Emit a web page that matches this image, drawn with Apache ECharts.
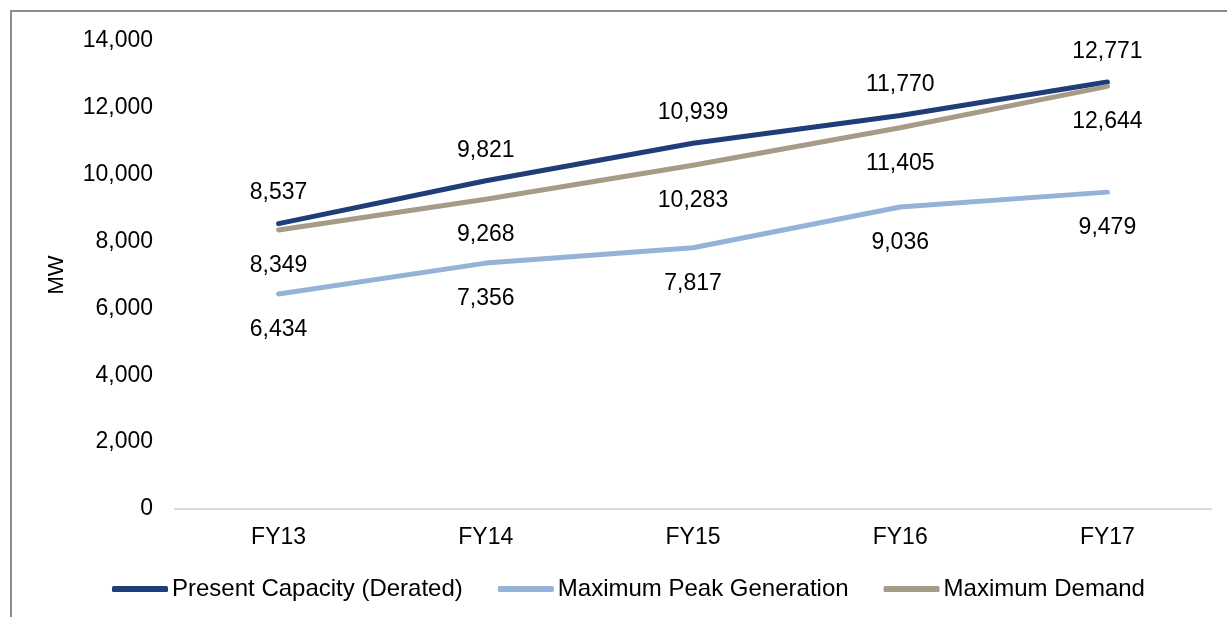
<!DOCTYPE html>
<html>
<head>
<meta charset="utf-8">
<script src="https://cdn.jsdelivr.net/npm/echarts@6/dist/echarts.min.js"></script>
<style>
html,body{margin:0;padding:0;background:#fff;}
#c{width:1227px;height:617px;}
</style>
</head>
<body>
<div id="c"></div>
<script>
const categories = ['FY13', 'FY14', 'FY15', 'FY16', 'FY17'];
const presentCapacity = [8537, 9821, 10939, 11770, 12771];
const maxPeakGeneration = [6434, 7356, 7817, 9036, 9479];
const maxDemand = [8349, 9268, 10283, 11405, 12644];
const seriesNames = ['Present Capacity (Derated)', 'Maximum Peak Generation', 'Maximum Demand'];
const yTicks = { min: 0, max: 14000, interval: 2000 };

const FONT = '"Liberation Sans", Arial, sans-serif';
const FS = 23;
const fmt = v => Number(v).toLocaleString('en-US');

const chart = echarts.init(document.getElementById('c'), null, { renderer: 'canvas' });

function mkSeries(name, data, color, pos, dist) {
  return {
    name: name,
    type: 'line',
    data: data,
    symbol: 'circle',
    symbolSize: 0,
    showSymbol: true,
    lineStyle: { color: color, width: 5, cap: 'round', join: 'round' },
    itemStyle: { color: color },
    label: {
      show: true,
      position: pos,
      distance: dist,
      color: '#000',
      fontFamily: FONT,
      fontSize: FS,
      formatter: p => fmt(p.value)
    },
    z: 3
  };
}

chart.setOption({
  animation: false,
  backgroundColor: '#fff',
  textStyle: { fontFamily: FONT },
  graphic: [{
    type: 'rect',
    shape: { x: 11, y: 11, width: 1400, height: 800 },
    style: { fill: 'none', stroke: '#8c8c8c', lineWidth: 2 },
    silent: true,
    z: -1
  }],
  grid: { left: 175, right: 16, top: 41, bottom: 108, containLabel: false },
  legend: {
    data: seriesNames,
    bottom: 11,
    left: 107,
    icon: 'roundRect',
    itemWidth: 56,
    itemHeight: 6,
    itemGap: 35,
    textStyle: { fontFamily: FONT, fontSize: 24, color: '#000', padding: [0, 0, 0, -1] }
  },
  xAxis: {
    type: 'category',
    data: categories,
    boundaryGap: true,
    axisLine: { show: true, lineStyle: { color: '#d9d9d9', width: 2 } },
    axisTick: { show: false },
    axisLabel: { color: '#000', fontFamily: FONT, fontSize: FS, margin: 17 },
    splitLine: { show: false }
  },
  yAxis: {
    type: 'value',
    min: yTicks.min,
    max: yTicks.max,
    interval: yTicks.interval,
    name: 'MW',
    nameLocation: 'middle',
    nameRotate: 90,
    nameGap: 107,
    nameTextStyle: { color: '#000', fontFamily: FONT, fontSize: 22 },
    axisLine: { show: false },
    axisTick: { show: false },
    splitLine: { show: false },
    axisLabel: { color: '#000', fontFamily: FONT, fontSize: FS, margin: 22, formatter: v => fmt(v) }
  },
  series: [
    mkSeries(seriesNames[0], presentCapacity, '#1F3E79', 'top', 19),
    mkSeries(seriesNames[1], maxPeakGeneration, '#95B3D7', 'bottom', 24),
    mkSeries(seriesNames[2], maxDemand, '#A69A89', 'bottom', 24)
  ]
});
</script>
</body>
</html>
